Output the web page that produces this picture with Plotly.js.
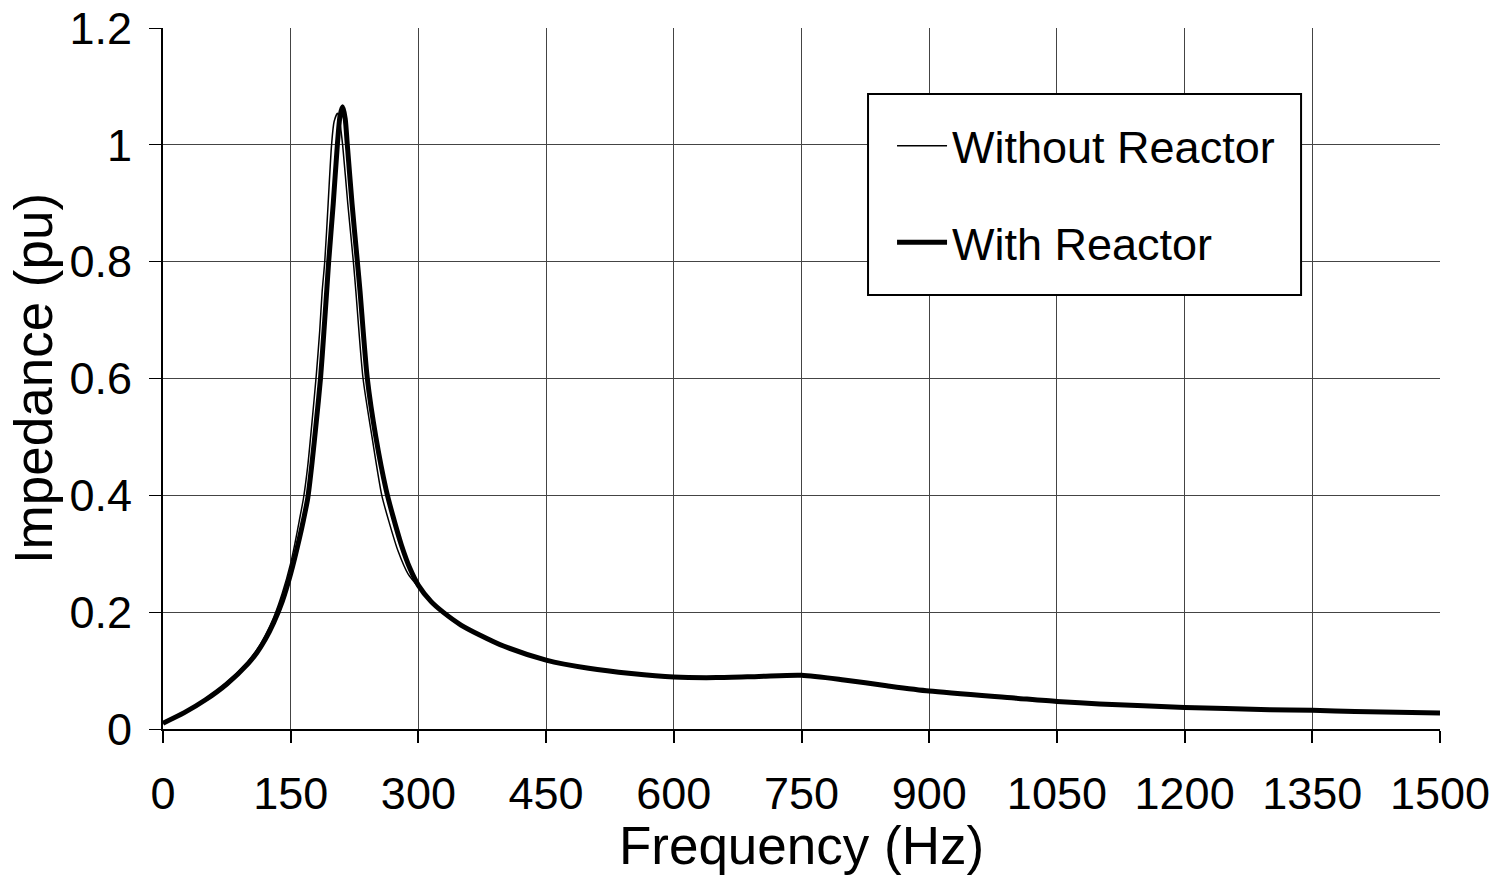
<!DOCTYPE html>
<html>
<head>
<meta charset="utf-8">
<script src="https://cdn.plot.ly/plotly-3.0.1.min.js"></script>
<style>html,body{margin:0;padding:0;background:#fff;}#chart{width:1496px;height:875px;}</style>
</head>
<body>
<div id="chart"></div>
<script>
// Without reactor (thin line)
const freqWithout = [0,25,50,75,100,110,120,130,140,150,155,160,165,170,175,180,184,187,190,194,198,201,205,208,211,217,223.6,226.5,235,245.5,257,266,276,288,300,315,329,350,372,400,450,500,550,600,650,700,750,800,850,900,1000,1050,1100,1200,1300,1350,1400,1500];
const impWithout = [0.01,0.029,0.052,0.08,0.116,0.135,0.16,0.191,0.232,0.284,0.318,0.356,0.395,0.45,0.525,0.605,0.68,0.75,0.8,0.9,1.0,1.04,1.054,1.035,1.0,0.9,0.8,0.75,0.6,0.5,0.4,0.352,0.305,0.265,0.243,0.217,0.2,0.178,0.161,0.142,0.118,0.104,0.095,0.089,0.088,0.09,0.092,0.084,0.074,0.065,0.053,0.047,0.043,0.037,0.033,0.032,0.03,0.0275];
// With reactor (thick line)
const freqWith = [0,25,50,75,100,110,120,130,140,150,160,165,170,175,180,185,189,192.3,194.6,200,204.8,208,211,214,216.5,222,228.3,231.4,240,250,262,270,280,290,300,315,329,350,372,400,450,500,550,600,650,700,750,800,850,900,1000,1050,1100,1200,1300,1350,1400,1500];
const impWith = [0.01,0.028,0.05,0.077,0.112,0.13,0.153,0.182,0.218,0.266,0.325,0.358,0.395,0.455,0.525,0.6,0.68,0.75,0.8,0.9,1.0,1.05,1.065,1.045,1.0,0.9,0.8,0.75,0.6,0.5,0.41,0.365,0.315,0.275,0.246,0.218,0.2,0.178,0.161,0.142,0.118,0.104,0.095,0.089,0.088,0.09,0.092,0.084,0.074,0.065,0.053,0.047,0.043,0.037,0.033,0.032,0.03,0.0275];
const xTicks = [0,150,300,450,600,750,900,1050,1200,1350,1500];
const yTicks = [0,0.2,0.4,0.6,0.8,1,1.2];
const yTickText = ['0','0.2','0.4','0.6','0.8','1','1.2'];

const FONT = 'Liberation Sans, Arial, sans-serif';
const traces = [
  {x: freqWith, y: impWith, name: 'With Reactor', mode: 'lines', legendgroup: 'b', legendrank: 2,
   line: {color: '#000', width: 5, shape: 'spline', smoothing: 0.7}},
  {x: freqWithout, y: impWithout, name: 'Without Reactor', mode: 'lines', legendgroup: 'a', legendrank: 1,
   line: {color: '#000', width: 1.5, shape: 'spline', smoothing: 0.7}}
];
const layout = {
  width: 1496, height: 875,
  margin: {l: 163, r: 56, t: 28, b: 146},
  paper_bgcolor: '#fff', plot_bgcolor: '#fff',
  font: {family: FONT, color: '#000', size: 45},
  showlegend: true,
  shapes: [{type: 'rect', xref: 'paper', yref: 'paper', x0: 0.5521, x1: 0.8912, y0: 0.6191, y1: 0.9058,
    line: {color: '#000', width: 2}, fillcolor: '#fff', layer: 'above'}],
  legend: {x: 0.5709, y: 0.883, xanchor: 'left', yanchor: 'top',
    bgcolor: 'rgba(0,0,0,0)', borderwidth: 0, itemwidth: 50,
    font: {family: FONT, size: 45, color: '#000'}, tracegroupgap: 35,
    traceorder: 'grouped'},
  xaxis: {range: [0, 1500], tickvals: xTicks, ticktext: xTicks.map(String),
    showgrid: true, gridcolor: '#444', gridwidth: 1, zeroline: false,
    showline: true, linecolor: '#000', linewidth: 2,
    ticks: 'outside', ticklen: 12, tickwidth: 2, tickcolor: '#000',
    tickfont: {family: FONT, size: 45}, automargin: false, ticklabelstandoff: 12,
    title: {text: 'Frequency (Hz)', font: {family: FONT, size: 53}, standoff: 0}},
  yaxis: {range: [0, 1.2], tickvals: yTicks, ticktext: yTickText,
    showgrid: true, gridcolor: '#444', gridwidth: 1, zeroline: false,
    showline: true, linecolor: '#000', linewidth: 2,
    ticks: 'outside', ticklen: 12, tickwidth: 1, tickcolor: '#000',
    tickfont: {family: FONT, size: 45}, automargin: false, ticklabelstandoff: 8,
    title: {text: 'Impedance (pu)', font: {family: FONT, size: 53}, standoff: 0}}
};
Plotly.newPlot('chart', traces, layout, {displayModeBar: false, staticPlot: true});
</script>
</body>
</html>
